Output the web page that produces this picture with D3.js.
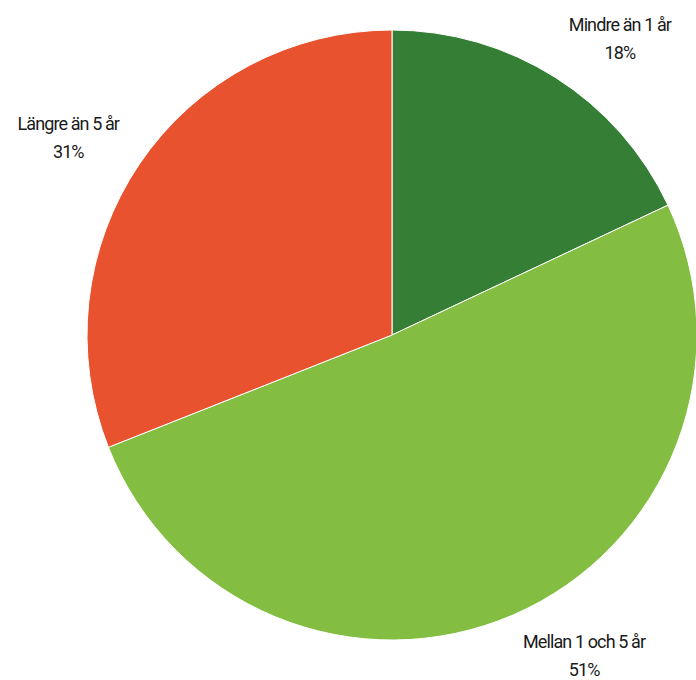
<!DOCTYPE html>
<meta charset="utf-8">
<style>
body { margin: 0; background: #fff; }
svg { display: block; }
.label {
  font-family: Roboto, sans-serif;
  font-size: 18px;
  letter-spacing: -0.9px;
  fill: #1a1a1a;
}
</style>
<body>
<script src="https://d3js.org/d3.v7.min.js"></script>
<script>
var categories = ["Mindre än 1 år", "Mellan 1 och 5 år", "Längre än 5 år"];
var values = [18, 51, 31];
var colors = ["#347f35", "#83be43", "#e8522e"];

var w = 696,
    h = 680,
    cx = 392,
    cy = 335,
    radius = 305,
    labelRadius = 330,
    lineGap = 28;

var data = categories.map(function(c, i) {
  return { name: c, value: values[i], color: colors[i] };
});

var svg = d3.select("body").append("svg")
    .attr("width", w)
    .attr("height", h);

var g = svg.append("g")
    .attr("transform", "translate(" + cx + "," + cy + ")");

var pie = d3.pie()
    .sort(null)
    .value(function(d) { return d.value; });

var arc = d3.arc()
    .innerRadius(0)
    .outerRadius(radius);

var arcs = pie(data);

g.selectAll("path.slice")
    .data(arcs)
  .enter().append("path")
    .attr("class", "slice")
    .attr("d", arc)
    .attr("fill", function(d) { return d.data.color; })
    .attr("stroke", "#fff")
    .attr("stroke-width", 1);

/* labels: anchored just outside the rim at the slice's mid angle */
var lab = g.selectAll("g.lab")
    .data(arcs)
  .enter().append("g")
    .attr("class", "lab");

lab.append("text")
    .attr("class", "label")
    .attr("text-anchor", "middle")
    .attr("y", -lineGap / 2 + 6)
    .text(function(d) { return d.data.name; });

lab.append("text")
    .attr("class", "label")
    .attr("text-anchor", "middle")
    .attr("y", lineGap / 2 + 6)
    .text(function(d) { return d.data.value + "%"; });

lab.attr("transform", function(d) {
  var a = (d.startAngle + d.endAngle) / 2,
      px = labelRadius * Math.sin(a),
      py = -labelRadius * Math.cos(a),
      bw = d3.max(d3.select(this).selectAll("text").nodes(), function(n) { return n.getComputedTextLength(); }),
      side = Math.sin(a) >= 0 ? 1 : -1;
  return "translate(" + (px + side * bw / 2) + "," + (py - 20 * Math.cos(a)) + ")";
});
</script>
